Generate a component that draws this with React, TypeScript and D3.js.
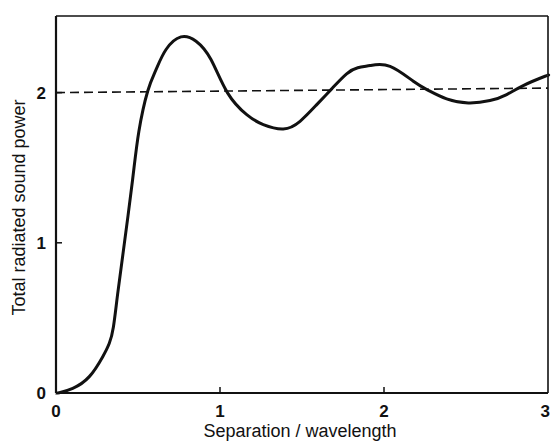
import React from 'react'
import { scaleLinear, line, curveNatural } from 'd3'

// separation / wavelength vs total radiated sound power
const separation = [0, 0.02, 0.102, 0.203, 0.285, 0.325, 0.35, 0.376, 0.417, 0.467, 0.505, 0.559, 0.61, 0.671, 0.762, 0.854, 0.945, 1.045, 1.163, 1.264, 1.386, 1.488, 1.59, 1.681, 1.772, 1.84, 1.915, 2.037, 2.179, 2.27, 2.382, 2.514, 2.646, 2.748, 2.849, 2.982, 3.0]
const power = [0, 0.002, 0.031, 0.109, 0.242, 0.331, 0.44, 0.66, 0.998, 1.42, 1.74, 2.009, 2.153, 2.287, 2.371, 2.342, 2.22, 2.0, 1.853, 1.787, 1.758, 1.809, 1.92, 2.025, 2.125, 2.165, 2.18, 2.175, 2.075, 2.015, 1.958, 1.931, 1.947, 1.987, 2.047, 2.109, 2.115]
const asymptoteX = [0, 3]
const asymptoteY = [2.0, 2.03]
const xTicks = [0, 1, 2, 3]
const yTicks = [0, 1, 2]

const W = 551
const H = 446
const m = { left: 56, right: 3, top: 16, bottom: 53 }

const App = () => {
  const x = scaleLinear().domain([0, 3]).range([m.left, W - m.right])
  const y = scaleLinear().domain([0, 2.51]).range([H - m.bottom, m.top])

  const curve = line<number>()
    .x((d, i) => x(separation[i]))
    .y(d => y(d))
    .curve(curveNatural)

  const dash = line<number>()
    .x((d, i) => x(asymptoteX[i]))
    .y(d => y(d))

  const font = '"Liberation Sans", Arial, sans-serif'

  return (
    <svg width={W} height={H} style={{ position: 'absolute', left: 0, top: 0, background: '#fff' }}>
      {/* frame */}
      <line x1={x(0)} x2={x(3)} y1={y(2.51)} y2={y(2.51)} stroke="#111" strokeWidth={1.6} />
      <line x1={x(3)} x2={x(3)} y1={y(2.51)} y2={y(0)} stroke="#111" strokeWidth={1.6} />
      <line x1={x(0)} x2={x(3)} y1={y(0)} y2={y(0)} stroke="#111" strokeWidth={1.8} />
      <line x1={x(0)} x2={x(0)} y1={y(2.51)} y2={y(0)} stroke="#111" strokeWidth={2.2} />

      {/* ticks */}
      {xTicks.slice(1, 3).map(t => (
        <line key={'xt' + t} x1={x(t)} x2={x(t)} y1={y(0)} y2={y(0) - 6} stroke="#111" strokeWidth={1.5} />
      ))}
      {yTicks.slice(1).map(t => (
        <line key={'yt' + t} x1={x(0)} x2={x(0) + 6} y1={y(t)} y2={y(t)} stroke="#111" strokeWidth={1.5} />
      ))}

      {/* tick labels */}
      {xTicks.map(t => (
        <text key={'xl' + t} x={t === 3 ? W - 1 : x(t)} y={y(0) + 24} textAnchor={t === 3 ? 'end' : 'middle'} fontFamily={font} fontSize={17} fontWeight="bold" fill="#111">{t}</text>
      ))}
      {yTicks.map(t => (
        <text key={'yl' + t} x={x(0) - 10} y={y(t) + 6} textAnchor="end" fontFamily={font} fontSize={17} fontWeight="bold" fill="#111">{t}</text>
      ))}

      {/* axis titles */}
      <text x={300} y={437} textAnchor="middle" fontFamily={font} fontSize={18} fill="#111">Separation / wavelength</text>
      <text transform={`translate(25, ${(y(0) + y(2.51)) / 2 + 3}) rotate(-90)`} textAnchor="middle" fontFamily={font} fontSize={18} fill="#111">Total radiated sound power</text>

      {/* asymptote */}
      <path d={dash(asymptoteY) || ''} fill="none" stroke="#111" strokeWidth={1.6} strokeDasharray="9,5" />

      {/* curve */}
      <path d={curve(power) || ''} fill="none" stroke="#111" strokeWidth={3} strokeLinejoin="round" />
    </svg>
  )
}

export default App
